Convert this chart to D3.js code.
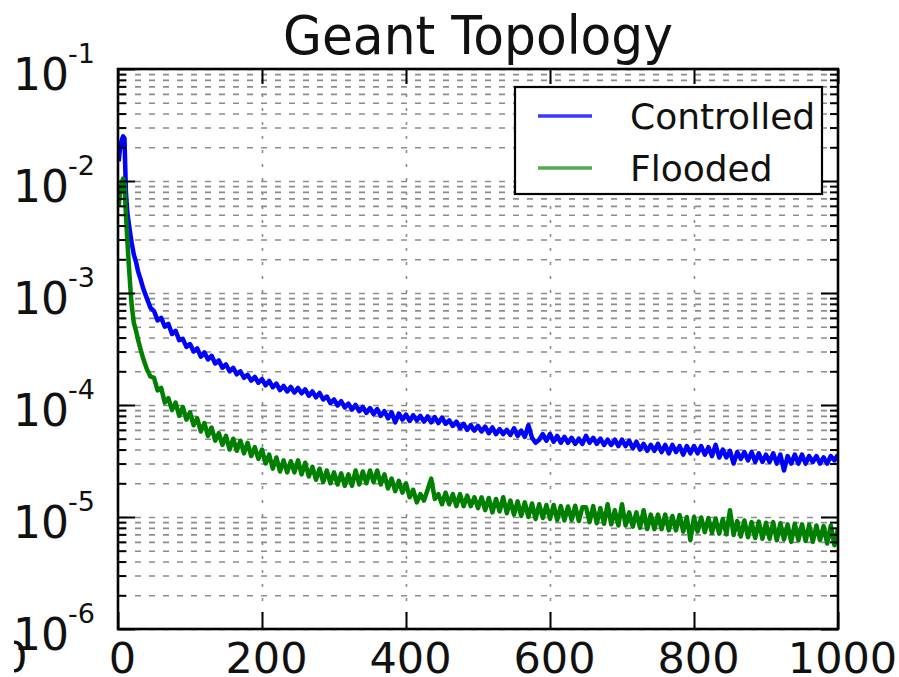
<!DOCTYPE html>
<html>
<head>
<meta charset="utf-8">
<script src="https://cdn.jsdelivr.net/npm/d3@7"></script>
<style>
  html, body { margin: 0; padding: 0; background: #fff; }
  svg { display: block; font-family: "DejaVu Sans", sans-serif; }
</style>
</head>
<body>
<svg id="chart" width="899" height="677"></svg>
<script>
// ---------- data ----------
const title = "Geant Topology";
const seriesNames = ["Controlled", "Flooded"];
const seriesColors = ["#0000ff", "#008000"];

const xEarly = [1, 3, 5, 7, 9, 11, 13, 15, 17, 19, 22, 25, 28, 31, 35, 40, 45];
const xRegular = d3.range(50, 1001, 5);
const xValues = xEarly.concat(xRegular);

const controlled = [
  1.5e-2, 2.0e-2, 2.3e-2, 2.5e-2, 2.4e-2, 8.0e-3, 5.2e-3, 4.2e-3, 3.4e-3, 2.8e-3, 2.2e-3, 1.9e-3, 1.55e-3, 1.35e-3, 1.1e-3, 9.0e-4, 7.4e-4,
  6.9e-4, 5.7e-4, 6.0e-4, 5.0e-4, 5.3e-4, 4.3e-4, 4.6e-4, 3.8e-4, 3.9e-4, 3.3e-4,
  3.5e-4, 3.0e-4, 3.2e-4, 2.7e-4, 2.95e-4, 2.55e-4, 2.75e-4, 2.35e-4, 2.5e-4, 2.15e-4,
  2.3e-4, 2.0e-4, 2.15e-4, 1.88e-4, 2.0e-4, 1.75e-4, 1.86e-4, 1.65e-4, 1.78e-4, 1.58e-4,
  1.7e-4, 1.5e-4, 1.64e-4, 1.44e-4, 1.55e-4, 1.36e-4, 1.48e-4, 1.32e-4, 1.45e-4, 1.29e-4,
  1.42e-4, 1.27e-4, 1.38e-4, 1.21e-4, 1.32e-4, 1.17e-4, 1.28e-4, 1.12e-4, 1.19e-4, 1.04e-4,
  1.12e-4, 9.9e-5, 1.08e-4, 9.5e-5, 1.03e-4, 9.1e-5, 1.0e-4, 8.8e-5, 9.6e-5, 8.5e-5,
  9.4e-5, 8.3e-5, 9.2e-5, 8.0e-5, 8.8e-5, 7.6e-5, 8.6e-5, 7.0e-5, 8.4e-5, 7.4e-5,
  8.2e-5, 7.2e-5, 8.1e-5, 7.3e-5, 8.0e-5, 7.1e-5, 7.9e-5, 7.0e-5, 7.8e-5, 6.9e-5,
  7.7e-5, 6.8e-5, 7.3e-5, 6.5e-5, 7.1e-5, 6.2e-5, 6.8e-5, 6.0e-5, 6.6e-5, 5.9e-5,
  6.5e-5, 5.8e-5, 6.4e-5, 5.6e-5, 6.3e-5, 5.5e-5, 6.1e-5, 5.5e-5, 6.0e-5, 5.4e-5,
  6.2e-5, 5.3e-5, 5.9e-5, 5.2e-5, 6.6e-5, 5.1e-5, 4.6e-5, 4.9e-5, 5.5e-5, 4.8e-5,
  5.5e-5, 4.7e-5, 5.3e-5, 4.6e-5, 5.2e-5, 4.6e-5, 5.1e-5, 4.5e-5, 5.0e-5, 4.5e-5,
  5.3e-5, 4.6e-5, 5.1e-5, 4.5e-5, 5.0e-5, 4.4e-5, 4.9e-5, 4.4e-5, 4.9e-5, 4.3e-5,
  4.9e-5, 4.3e-5, 4.8e-5, 4.1e-5, 4.7e-5, 4.0e-5, 4.5e-5, 3.9e-5, 4.4e-5, 3.9e-5,
  4.5e-5, 3.8e-5, 4.4e-5, 3.7e-5, 4.4e-5, 3.8e-5, 4.3e-5, 3.6e-5, 4.3e-5, 3.7e-5,
  4.3e-5, 3.7e-5, 4.3e-5, 3.6e-5, 4.2e-5, 3.5e-5, 4.4e-5, 3.4e-5, 4.0e-5, 3.4e-5,
  3.9e-5, 3.0e-5, 3.8e-5, 3.3e-5, 3.8e-5, 3.2e-5, 3.8e-5, 3.1e-5, 3.7e-5, 3.1e-5,
  3.6e-5, 3.1e-5, 3.7e-5, 3.0e-5, 3.6e-5, 2.6e-5, 3.5e-5, 3.0e-5, 3.6e-5, 3.0e-5,
  3.6e-5, 3.0e-5, 3.5e-5, 3.1e-5, 3.5e-5, 3.0e-5, 3.4e-5, 3.0e-5, 3.5e-5, 3.2e-5, 3.6e-5
];

const flooded = [
  6.0e-3, 8.0e-3, 9.5e-3, 1.05e-2, 9.5e-3, 5.0e-3, 2.9e-3, 1.8e-3, 1.15e-3, 7.8e-4, 5.4e-4, 4.6e-4, 3.8e-4, 3.2e-4, 2.6e-4, 2.1e-4, 1.8e-4,
  1.75e-4, 1.35e-4, 1.42e-4, 1.05e-4, 1.15e-4, 9.0e-5, 1.05e-4, 8.0e-5, 9.6e-5, 7.4e-5,
  8.6e-5, 6.6e-5, 7.6e-5, 5.8e-5, 6.9e-5, 5.3e-5, 6.3e-5, 4.8e-5, 5.6e-5, 4.4e-5,
  5.3e-5, 4.0e-5, 5.0e-5, 3.9e-5, 4.8e-5, 3.7e-5, 4.6e-5, 3.5e-5, 4.2e-5, 3.3e-5,
  4.0e-5, 3.0e-5, 3.6e-5, 2.7e-5, 3.4e-5, 2.55e-5, 3.2e-5, 2.5e-5, 3.15e-5, 2.5e-5,
  3.2e-5, 2.4e-5, 3.05e-5, 2.3e-5, 2.8e-5, 2.15e-5, 2.7e-5, 2.05e-5, 2.6e-5, 2.0e-5,
  2.5e-5, 1.95e-5, 2.45e-5, 1.9e-5, 2.4e-5, 1.9e-5, 2.6e-5, 1.95e-5, 2.55e-5, 2.0e-5,
  2.6e-5, 2.05e-5, 2.6e-5, 1.95e-5, 2.4e-5, 1.8e-5, 2.2e-5, 1.7e-5, 2.1e-5, 1.65e-5,
  2.0e-5, 1.5e-5, 1.75e-5, 1.35e-5, 1.6e-5, 1.4e-5, 1.75e-5, 2.2e-5, 1.45e-5, 1.6e-5,
  1.3e-5, 1.65e-5, 1.3e-5, 1.6e-5, 1.25e-5, 1.6e-5, 1.25e-5, 1.55e-5, 1.25e-5, 1.5e-5,
  1.2e-5, 1.5e-5, 1.15e-5, 1.48e-5, 1.1e-5, 1.45e-5, 1.12e-5, 1.5e-5, 1.08e-5, 1.4e-5,
  1.05e-5, 1.38e-5, 1.02e-5, 1.35e-5, 1.0e-5, 1.32e-5, 9.6e-6, 1.3e-5, 9.8e-6, 1.28e-5,
  9.6e-6, 1.28e-5, 9.4e-6, 1.25e-5, 9.3e-6, 1.24e-5, 9.4e-6, 1.26e-5, 9.2e-6, 1.22e-5,
  1.22e-5, 9.0e-6, 1.25e-5, 8.8e-6, 1.2e-5, 8.7e-6, 1.3e-5, 8.6e-6, 1.15e-5, 8.4e-6,
  1.3e-5, 8.4e-6, 1.1e-5, 8.2e-6, 1.1e-5, 8.0e-6, 1.15e-5, 7.8e-6, 1.05e-5, 7.8e-6,
  1.05e-5, 7.8e-6, 1.05e-5, 7.6e-6, 1.02e-5, 7.6e-6, 1.04e-5, 7.4e-6, 1.0e-5, 6.2e-6,
  1.0e-5, 7.4e-6, 9.9e-6, 7.3e-6, 9.8e-6, 7.2e-6, 9.7e-6, 7.1e-6, 9.6e-6, 7.0e-6,
  1.15e-5, 6.9e-6, 9.2e-6, 6.7e-6, 9.3e-6, 6.6e-6, 9.0e-6, 6.5e-6, 9.1e-6, 6.4e-6,
  8.9e-6, 6.4e-6, 9.0e-6, 6.2e-6, 8.8e-6, 6.3e-6, 8.6e-6, 6.0e-6, 8.7e-6, 6.2e-6,
  8.6e-6, 6.1e-6, 8.5e-6, 6.0e-6, 8.4e-6, 6.2e-6, 8.3e-6, 5.8e-6, 8.4e-6, 5.6e-6, 7.8e-6
];

const xTicks = [0, 200, 400, 600, 800, 1000];
const xTickLabels = ["0", "200", "400", "600", "800", "1000"];
const yTickExponents = [-1, -2, -3, -4, -5, -6];
const yMantissas = [1, 2, 3, 4, 5, 6, 7, 8, 9];

// ---------- layout ----------
const L = 118, R = 838, T = 69, B = 629;
const svg = d3.select("#chart");
const x = d3.scaleLinear().domain([0, 1000]).range([L, R]);
const y = d3.scaleLog().domain([1e-6, 1e-1]).range([B, T]);

const majorY = yTickExponents.map(e => Math.pow(10, e));
const minorY = [];
for (let e = -6; e <= -2; e++) {
  for (const m of yMantissas.slice(1)) minorY.push(m * Math.pow(10, e));
}
const allY = majorY.concat(minorY);

// grid: horizontal dashed lines
const gridY = svg.append("g").attr("transform", `translate(${L},0)`)
  .call(d3.axisLeft(y).tickValues(allY).tickSize(-(R - L)).tickFormat(""));
gridY.select(".domain").remove();
gridY.selectAll(".tick line")
  .attr("stroke", "#8c8c8c").attr("stroke-width", 1.6)
  .attr("stroke-dasharray", "6,8").attr("stroke-dashoffset", -3);

// grid: vertical dotted lines
const gridX = svg.append("g").attr("transform", `translate(0,${B})`)
  .call(d3.axisBottom(x).tickValues(xTicks.slice(1, -1)).tickSize(-(B - T)).tickFormat(""));
gridX.select(".domain").remove();
gridX.selectAll(".tick line")
  .attr("stroke", "#8c8c8c").attr("stroke-width", 1.6)
  .attr("stroke-dasharray", "3,11");

// series
svg.append("clipPath").attr("id", "plotClip")
  .append("rect").attr("x", L).attr("y", T).attr("width", R - L).attr("height", B - T);

const line = d3.line().x((d, i) => x(xValues[i])).y(d => y(d));
const seriesData = [controlled, flooded];
seriesData.forEach((vals, k) => {
  svg.append("path")
    .datum(vals)
    .attr("clip-path", "url(#plotClip)")
    .attr("fill", "none")
    .attr("stroke", seriesColors[k])
    .attr("stroke-width", 4.5)
    .attr("stroke-linejoin", "round")
    .attr("d", line);
});

// ticks (inward) on all four sides
function styleTicks(g) {
  g.select(".domain").remove();
  g.selectAll(".tick line").attr("stroke", "#000").attr("stroke-width", 2);
}
const tickSides = [
  { axis: d3.axisLeft, pos: `translate(${L},0)` },
  { axis: d3.axisRight, pos: `translate(${R},0)` }
];
tickSides.forEach(s => {
  svg.append("g").attr("transform", s.pos)
    .call(s.axis(y).tickValues(majorY).tickSize(-17).tickFormat("")).call(styleTicks);
  svg.append("g").attr("transform", s.pos)
    .call(s.axis(y).tickValues(minorY).tickSize(-8).tickFormat("")).call(styleTicks);
});
svg.append("g").attr("transform", `translate(0,${T})`)
  .call(d3.axisTop(x).tickValues(xTicks).tickSize(-15).tickFormat("")).call(styleTicks);

// bottom axis with labels
const xAxisG = svg.append("g").attr("transform", `translate(0,${B})`)
  .call(d3.axisBottom(x).tickValues(xTicks).tickSize(-17).tickPadding(13)
    .tickFormat((d, i) => xTickLabels[i]));
xAxisG.call(styleTicks);
xAxisG.selectAll(".tick text")
  .attr("font-family", "DejaVu Sans").attr("font-size", 43)
  .attr("fill", "#111").attr("dx", 4);

// left axis labels 10^n
const yLab = svg.append("g").attr("transform", `translate(${L},0)`)
  .call(d3.axisLeft(y).tickValues(majorY).tickSize(0).tickFormat(""));
yLab.select(".domain").remove();
yLab.selectAll(".tick").each(function (d, i) {
  const t = d3.select(this).append("text")
    .attr("x", 13 - L).attr("y", 20)
    .attr("text-anchor", "start")
    .attr("font-family", "DejaVu Sans")
    .attr("fill", "#111")
    .attr("font-size", 44);
  t.append("tspan").text("10");
  t.append("tspan").attr("dy", -27).attr("dx", -1).attr("font-size", 27).text("-" + Math.abs(yTickExponents[i]));
});

// frame
svg.append("rect").attr("x", L).attr("y", T).attr("width", R - L).attr("height", B - T)
  .attr("fill", "none").attr("stroke", "#000").attr("stroke-width", 2.6);

// title
svg.append("text")
  .attr("x", (L + R) / 2).attr("y", 54)
  .attr("text-anchor", "middle")
  .attr("font-family", "DejaVu Sans").attr("font-size", 54)
  .attr("textLength", 390).attr("lengthAdjust", "spacingAndGlyphs")
  .attr("fill", "#111")
  .text(title);

// legend
const leg = svg.append("g");
leg.append("rect").attr("x", 515).attr("y", 87).attr("width", 307).attr("height", 107)
  .attr("fill", "#fff").attr("stroke", "#000").attr("stroke-width", 2.2);
const legendLineColors = ["#3a3aff", "#55a855"];
seriesNames.forEach((name, k) => {
  const yy = 116 + k * 52;
  leg.append("line").attr("x1", 538).attr("x2", 592).attr("y1", yy).attr("y2", yy)
    .attr("stroke", legendLineColors[k]).attr("stroke-width", 3.5);
  leg.append("text").attr("x", 630).attr("y", yy + 13)
    .attr("font-family", "DejaVu Sans").attr("font-size", 36)
    .attr("fill", "#111")
    .text(name);
});

// clipped fragment of a neighbouring label at the bottom-left edge
svg.append("clipPath").attr("id", "fragClip")
  .append("rect").attr("x", 14).attr("y", 635).attr("width", 30).attr("height", 42);
svg.append("text")
  .attr("clip-path", "url(#fragClip)")
  .attr("x", 14).attr("y", 672).attr("text-anchor", "middle")
  .attr("font-family", "DejaVu Sans").attr("font-size", 43).attr("fill", "#111")
  .text("0");
</script>
</body>
</html>
